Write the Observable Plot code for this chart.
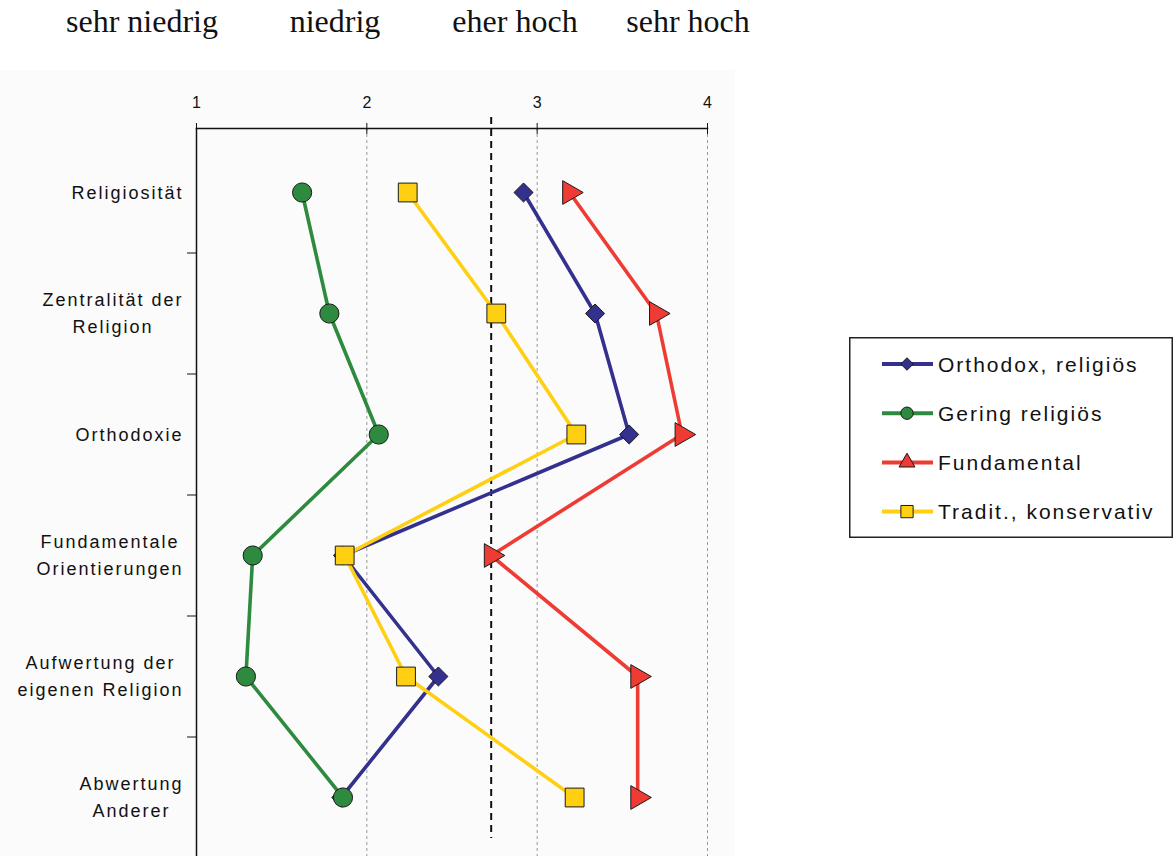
<!DOCTYPE html>
<html>
<head>
<meta charset="utf-8">
<script src="https://cdn.jsdelivr.net/npm/d3@7"></script>
<script src="https://cdn.jsdelivr.net/npm/@observablehq/plot@0.6"></script>
<style>
  body { margin: 0; background: #fff; width: 1176px; height: 856px; overflow: hidden; position: relative; font-family: "Liberation Sans", Arial, sans-serif; }
  #header { position: absolute; top: 0; left: 0; width: 780px; height: 50px; font-family: "Liberation Serif", "Times New Roman", serif; font-size: 32px; color: #111; }
  #header span { position: absolute; top: 3px; transform: translateX(-50%); white-space: nowrap; }
  #chart { position: absolute; left: 0; top: 70px; }
  #legend { position: absolute; left: 849px; top: 337px; }
  #chart g[aria-label="y-axis tick label"] text { font-size: 18px; letter-spacing: 2px; fill: #111; }
  #chart g[aria-label="x-axis tick label"] text { font-size: 16px; fill: #111; }
</style>
</head>
<body>
<div id="header"></div>
<div id="chart"></div>
<div id="legend"></div>
<script>
// ---- data ----
const scaleLabels = ["sehr niedrig", "niedrig", "eher hoch", "sehr hoch"];
const scaleLabelX = [142, 335, 515, 688];
const categories = [
  "Religiosität",
  "Zentralität der\nReligion",
  "Orthodoxie",
  "Fundamentale\nOrientierungen",
  "Aufwertung der\neigenen Religion",
  "Abwertung\nAnderer"
];
const seriesNames = ["Orthodox, religiös", "Gering religiös", "Fundamental", "Tradit., konservativ"];
const orthodox    = [2.92, 3.34, 3.54, 1.86, 2.42, 1.85];
const gering      = [1.62, 1.78, 2.07, 1.33, 1.29, 1.86];
const fundamental = [3.19, 3.70, 3.85, 2.73, 3.59, 3.59];
const tradit      = [2.24, 2.76, 3.23, 1.87, 2.23, 3.22];
const xTicks = [1, 2, 3, 4];
const gridTicks = [2, 3, 4];
const refValue = 2.73;

const colors = ["#34308e", "#2e8a3e", "#ee3b33", "#ffcf12"];
const symbols = ["diamond2", "circle", "triangle", "square"];
const radii = [8.6, 9.6, 8.8, 10.6];
const rotations = [0, 0, 90, 0];
const seriesValues = [orthodox, gering, fundamental, tradit];

// header
const header = document.getElementById("header");
scaleLabels.forEach((t, i) => {
  const s = document.createElement("span");
  s.textContent = t;
  s.style.left = scaleLabelX[i] + "px";
  header.appendChild(s);
});

const seriesMarks = [];
seriesNames.forEach((name, si) => {
  const data = categories.map((c, i) => ({cat: c, value: seriesValues[si][i], series: name}));
  seriesMarks.push(Plot.line(data, {x: "value", y: "cat", stroke: colors[si], strokeWidth: 3.6}));
  seriesMarks.push(Plot.dot(data, {
    x: "value", y: "cat", symbol: () => symbols[si], r: radii[si],
    fill: colors[si], stroke: "#1a1a1a", strokeWidth: 1, rotate: rotations[si]
  }));
});

const chart = Plot.plot({
  width: 735,
  height: 786,
  marginTop: 58,
  marginBottom: 0,
  marginLeft: 196,
  marginRight: 28,
  x: {domain: [1, 4], range: [196, 707]},
  y: {type: "point", domain: categories, range: [122, 727], padding: 0},
  symbol: {type: "identity"},
  style: {background: "#fbfbfb", fontFamily: "Liberation Sans, Arial, sans-serif", overflow: "visible"},
  marks: [
    Plot.ruleX(gridTicks, {stroke: "#9a9a9a", strokeWidth: 1, strokeDasharray: "3,3"}),
    Plot.ruleX([refValue], {stroke: "#111", strokeWidth: 2, strokeDasharray: "7,5", insetTop: -11, insetBottom: 18}),
    Plot.frame({anchor: "top", stroke: "#111", strokeWidth: 1.5}),
    Plot.frame({anchor: "left", stroke: "#111", strokeWidth: 1.5}),
    Plot.axisX(xTicks, {anchor: "top", tickSize: 6, tickPadding: 15, label: null, stroke: "#111", tickFormat: d => String(d)}),
    Plot.ruleX(xTicks, {stroke: "#111", strokeWidth: 1, insetBottom: 722}),
    Plot.axisY({anchor: "left", tickSize: 9, tickFormat: () => "", dy: 60.5, label: null, stroke: "#111"}),
    Plot.axisY({anchor: "left", tickSize: 0, tickPadding: 13, dy: -2.5, label: null, lineHeight: 1.5}),
    ...seriesMarks
  ]
});
document.getElementById("chart").appendChild(chart);

// center multi-line category labels
chart.querySelectorAll('g[aria-label="y-axis tick label"] text').forEach(t => {
  const spans = t.querySelectorAll("tspan");
  if (spans.length < 2) return;
  const w = Math.max(...Array.from(spans, s => s.getComputedTextLength()));
  t.setAttribute("text-anchor", "middle");
  spans.forEach(s => s.setAttribute("x", -w / 2));
});

// legend
const lw = 324, lh = 201;
const lsvg = d3.select("#legend").append("svg").attr("width", lw).attr("height", lh);
lsvg.append("rect").attr("x", 0.75).attr("y", 0.75).attr("width", lw - 1.5).attr("height", lh - 1.5)
  .attr("fill", "#fff").attr("stroke", "#222").attr("stroke-width", 1.5);
const d3sym = {diamond2: d3.symbolDiamond2, circle: d3.symbolCircle, triangle: d3.symbolTriangle, square: d3.symbolSquare};
const legendSizes = [100, 120, 110, 150];
seriesNames.forEach((name, i) => {
  const y = 27 + i * 49.2;
  const g = lsvg.append("g");
  g.append("line").attr("x1", 33).attr("x2", 84).attr("y1", y).attr("y2", y)
    .attr("stroke", colors[i]).attr("stroke-width", 4);
  g.append("path").attr("d", d3.symbol(d3sym[symbols[i]], legendSizes[i])())
    .attr("transform", `translate(58,${y})`)
    .attr("fill", colors[i]).attr("stroke", "#1a1a1a").attr("stroke-width", 1);
  g.append("text").attr("x", 89).attr("y", y).attr("dy", "0.36em")
    .attr("font-family", "Liberation Sans, Arial, sans-serif").attr("font-size", 21)
    .attr("letter-spacing", "2px").attr("fill", "#111").text(name);
});
</script>
</body>
</html>
